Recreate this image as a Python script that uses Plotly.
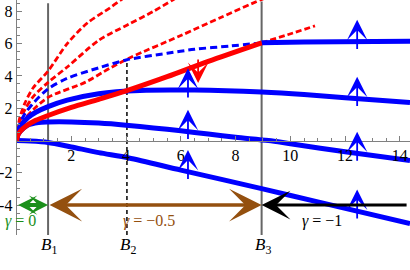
import numpy as np
import plotly.graph_objects as go

# ---------------- data ----------------
B = [1.15, 4.03, 8.95]
B_names = ["<i>B</i><sub>1</sub>", "<i>B</i><sub>2</sub>", "<i>B</i><sub>3</sub>"]

x_ticks = [2, 4, 6, 8, 10, 12, 14]
y_ticks = [-4, -2, 2, 4, 6, 8]
y_ticktext = ["-4", "-2", "2", "4", "6", "8"]

# red dashed curves from origin
redA_x = [0, 0.1, 0.3, 0.6, 1.15, 1.85, 2.6, 3.4, 3.8, 4.1]
redA_y = [0, 1.3, 2.3, 3.25, 4.3, 6.0, 7.3, 8.2, 8.7, 9.0]
redB_x = [0, 0.1, 0.3, 0.6, 1.15, 1.85, 3.0, 4.1, 5.0, 5.7, 6.0]
redB_y = [0, 1.1, 1.9, 2.7, 3.6, 4.55, 6.2, 7.2, 8.0, 8.7, 9.0]
redC_x = [0, 0.1, 0.3, 0.6, 1.15, 2.5, 3.4, 4.2, 6.0, 7.5, 8.9, 9.2]
redC_y = [0, 0.78, 1.34, 1.9, 2.67, 3.6, 4.47, 5.17, 6.5, 7.65, 8.7, 8.9]

# blue dashed curve
bdash_x = [0, 0.1, 0.3, 0.6, 1.15, 1.85, 3.0, 4.03, 5.5, 6.5, 7.8, 8.95]
bdash_y = [0, 0.95, 1.65, 2.3, 3.2, 3.85, 4.5, 5.0, 5.4, 5.65, 5.85, 6.05]

# red solid curve and its dashed continuation
red_x = [0, 0.05, 0.15, 0.35, 0.7, 1.15, 2, 3, 4, 5.5, 7, 8.95]
red_y = [0, 0.35, 0.6, 0.9, 1.25, 1.55, 2.05, 2.55, 3.07, 3.95, 4.9, 6.05]
redext_x = [8.95, 9.9, 10.9]
redext_y = [6.05, 6.55, 7.1]

# blue solid curves
s1_x = [8.95, 10.5, 14.37]
s1_y = [6.05, 6.1, 6.15]
s2_x = [0, 0.05, 0.15, 0.4, 0.7, 1.15, 1.85, 3.0, 4.5, 6.5, 8.95, 10.5, 12, 14.37]
s2_y = [0, 0.5, 0.9, 1.4, 1.75, 2.1, 2.5, 2.9, 3.1, 3.12, 3.0, 2.85, 2.65, 2.35]
s3_x = [0, 0.05, 0.15, 0.4, 0.8, 1.15, 2, 3, 4, 5, 6, 7, 8, 9.2, 10, 12, 14.37]
s3_y = [0, 0.35, 0.6, 0.95, 1.12, 1.15, 1.15, 1.08, 0.95, 0.78, 0.6, 0.4, 0.2, 0, -0.2, -0.7, -1.24]
s4_x = [0, 0.5, 1.15, 2, 3, 4.1, 6, 8.95, 11, 14.37]
s4_y = [0, -0.03, -0.12, -0.4, -0.75, -1.08, -1.83, -2.98, -3.8, -5.15]

# arrow positions
blue_arrow_x = [6.26, 12.44]
red_arrow_x = [6.63]
gamma_y = -4
gamma_labels = ["<i>γ</i> = 0", "<i>γ</i> = −0.5", "<i>γ</i> = −1"]
gamma_label_x = [0.14, 4.85, 11.15]

X_MAX = 14.37
Y_MIN, Y_MAX = -5.85, 8.7

BLUE = "#0000ff"
RED = "#ff0000"
GREEN = "#1a8f1a"
BROWN = "#94500f"
GRAY = "#808080"
SERIF = '"Liberation Serif", "Times New Roman", Times, serif'

fig = go.Figure()


def add_line(x, y, color, width, dash=None, spline=True):
    fig.add_trace(go.Scatter(
        x=x, y=y, mode="lines", hoverinfo="skip",
        line=dict(color=color, width=width, dash=dash,
                  shape="spline" if spline else "linear", smoothing=0.8)))


# vertical B lines
add_line([B[0], B[0]], [Y_MIN, 8.5], "#666666", 2, spline=False)
add_line([B[2], B[2]], [Y_MIN, 8.6], "#666666", 2, spline=False)
b2_top = float(np.interp(B[1], bdash_x, bdash_y))
add_line([B[1], B[1]], [Y_MIN, b2_top], "black", 1.5, dash="4px,3px", spline=False)

# dashed curves
add_line(redA_x, redA_y, RED, 2.8, dash="6px,3px")
add_line(redB_x, redB_y, RED, 2.8, dash="6px,3px")
add_line(redC_x, redC_y, RED, 2.8, dash="6px,3px")
add_line(bdash_x, bdash_y, BLUE, 3, dash="7px,4px")
add_line(redext_x, redext_y, RED, 2.8, dash="6px,3px")

# solid blue
for sx, sy in [(s1_x, s1_y), (s2_x, s2_y), (s3_x, s3_y), (s4_x, s4_y)]:
    add_line(sx, sy, BLUE, 5)

# solid red
add_line(red_x, red_y, RED, 5)

# blue vertical arrows
for xa in blue_arrow_x:
    curves = [(s2_x, s2_y), (s3_x, s3_y), (s4_x, s4_y)]
    if xa > B[2]:
        curves = [(s1_x, s1_y)] + curves
    for cx, cy in curves:
        yc = float(np.interp(xa, cx, cy))
        fig.add_annotation(x=xa, y=yc + 1.35, ax=xa, ay=yc - 0.55,
                           xref="x", yref="y", axref="x", ayref="y",
                           text="", showarrow=True, arrowhead=3,
                           arrowsize=1.9, arrowwidth=1.8, arrowcolor=BLUE)

for xa in red_arrow_x:
    yc = float(np.interp(xa, red_x, red_y))
    fig.add_annotation(x=xa, y=yc - 1.1, ax=xa, ay=yc + 0.45,
                       xref="x", yref="y", axref="x", ayref="y",
                       text="", showarrow=True, arrowhead=3,
                       arrowsize=1.9, arrowwidth=1.8, arrowcolor=RED)

# bottom gamma arrows
fig.add_annotation(x=B[0], y=gamma_y, ax=0, ay=gamma_y,
                   xref="x", yref="y", axref="x", ayref="y", text="",
                   showarrow=True, arrowhead=3, startarrowhead=3,
                   arrowside="end+start", arrowsize=0.8, startarrowsize=0.8,
                   arrowwidth=4, arrowcolor=GREEN)
fig.add_annotation(x=B[2], y=gamma_y, ax=B[0], ay=gamma_y,
                   xref="x", yref="y", axref="x", ayref="y", text="",
                   showarrow=True, arrowhead=3, startarrowhead=3,
                   arrowside="end+start", arrowsize=1.55, startarrowsize=1.55,
                   arrowwidth=3.5, arrowcolor=BROWN)
fig.add_annotation(x=B[2], y=gamma_y, ax=14.3, ay=gamma_y,
                   xref="x", yref="y", axref="x", ayref="y", text="",
                   showarrow=True, arrowhead=3, arrowsize=1.6,
                   arrowwidth=3, arrowcolor="black")

for txt, gx, col in zip(gamma_labels, gamma_label_x, [GREEN, BROWN, "black"]):
    fig.add_annotation(x=gx, y=-4.97, xref="x", yref="y", text=txt,
                       showarrow=False, font=dict(family=SERIF, size=16, color=col))

for bx, name in zip(B, B_names):
    fig.add_annotation(x=bx + 0.05, y=0.04, xref="x", yref="paper", text=name,
                       showarrow=False, font=dict(family=SERIF, size=17, color="black"))

minor_x = [v / 2 for v in range(1, 29) if v % 4 != 0]
minor_y = [v / 2 for v in range(-11, 18) if v % 4 != 0]

fig.update_layout(
    width=410, height=270, margin=dict(l=0, r=0, t=0, b=0, autoexpand=False),
    paper_bgcolor="white", plot_bgcolor="white", showlegend=False,
    xaxis=dict(domain=[16.6 / 410, 1], range=[0, X_MAX], anchor="free",
               position=(270 - 140.5) / 270, showline=True, linecolor=GRAY,
               linewidth=1, ticks="inside", ticklen=5, tickcolor=GRAY,
               tickmode="array", tickvals=x_ticks, automargin=False,
               ticktext=[str(v) for v in x_ticks],
               tickfont=dict(family=SERIF, size=16, color="black"),
               minor=dict(tickmode="array", tickvals=minor_x, ticks="inside",
                          ticklen=3, tickcolor=GRAY),
               showgrid=False, zeroline=False),
    yaxis=dict(domain=[35 / 270, 1], range=[Y_MIN, Y_MAX], anchor="x",
               showline=True, linecolor=GRAY, linewidth=1, ticks="inside",
               ticklen=5, tickcolor=GRAY, tickmode="array", tickvals=y_ticks,
               ticktext=y_ticktext, automargin=False,
               tickfont=dict(family=SERIF, size=16, color="black"),
               minor=dict(tickmode="array", tickvals=minor_y, ticks="inside",
                          ticklen=3, tickcolor=GRAY),
               showgrid=False, zeroline=False),
)

fig.write_html("out.html", config={"displayModeBar": False},
               post_script="document.body.style.margin='0px';")
